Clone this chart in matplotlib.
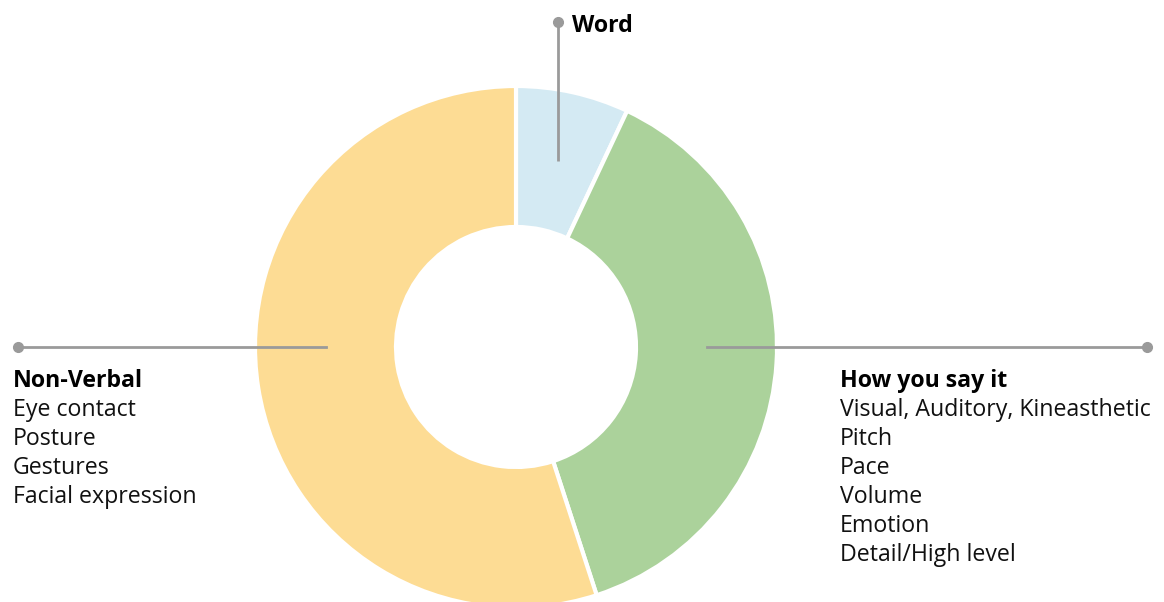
import matplotlib
matplotlib.use("Agg")
import matplotlib.pyplot as plt
import numpy as np

categories = ["Word", "How you say it", "Non-Verbal"]
values = [7, 38, 55]
colors = ["#d4eaf3", "#abd29b", "#fddc94"]
details_right = ["Visual, Auditory, Kineasthetic", "Pitch", "Pace", "Volume", "Emotion", "Detail/High level"]
details_left = ["Eye contact", "Posture", "Gestures", "Facial expression"]

W, H = 1164, 602
fig = plt.figure(figsize=(W / 100, H / 100), dpi=100)
ax = fig.add_axes([0, 0, 1, 1])

cx, cy = 516, H - 347
R, r_in = 261, 120
ax.pie(values, colors=colors, startangle=90, counterclock=False,
       center=(cx, cy), radius=R, frame=True,
       wedgeprops=dict(width=R - r_in, edgecolor="white", linewidth=3))
ax.set_xlim(0, W)
ax.set_ylim(0, H)
ax.set_aspect("equal")
ax.axis("off")

line_c = "#9a9a9a"
rm = (R + r_in) / 2
fam = ["Open Sans", "DejaVu Sans"]
fs = 16.7

# Word leader
ang = np.deg2rad(90 - 360 * values[0] / 100 / 2)
wx, wy = cx + rm * np.cos(ang), cy + rm * np.sin(ang)
top_y = H - 22
ax.plot([wx, wx], [wy, top_y], color=line_c, lw=2, solid_capstyle="butt")
ax.plot([wx], [top_y], "o", color=line_c, ms=7)
ax.text(wx + 14, top_y - 4, "Word", fontsize=fs, fontweight="bold", va="center", ha="left", family=fam)

# Left leader
lx = 18
ax.plot([cx - rm, lx], [cy, cy], color=line_c, lw=2)
ax.plot([lx], [cy], "o", color=line_c, ms=7)
step = 29
ty = H - 381
ax.text(13, ty, "Non-Verbal", fontsize=fs, fontweight="bold", va="center", ha="left", family=fam)
for i, t in enumerate(details_left):
    ax.text(13, ty - step * (i + 1), t, fontsize=fs, va="center", ha="left", family=fam, color="#111111")

# Right leader
rx = 1147
ax.plot([cx + rm, rx], [cy, cy], color=line_c, lw=2)
ax.plot([rx], [cy], "o", color=line_c, ms=7)
ax.text(840, ty, "How you say it", fontsize=fs, fontweight="bold", va="center", ha="left", family=fam)
for i, t in enumerate(details_right):
    ax.text(840, ty - step * (i + 1), t, fontsize=fs, va="center", ha="left", family=fam, color="#111111")

fig.savefig("out.png", dpi=100)
